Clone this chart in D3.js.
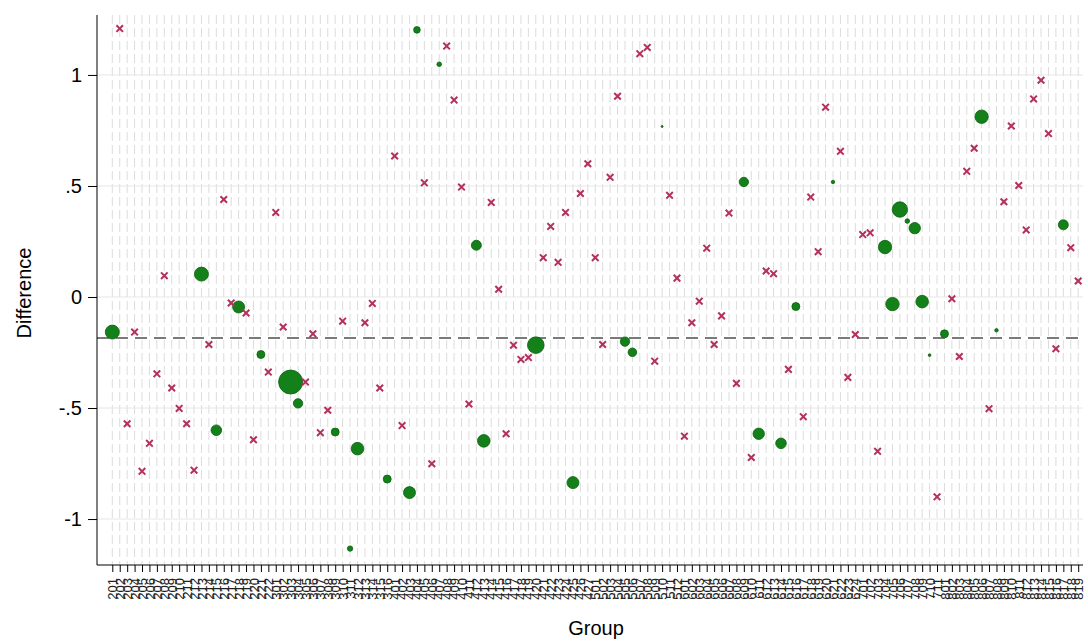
<!DOCTYPE html>
<html>
<head>
<meta charset="utf-8">
<title>Difference by group</title>
<script src="https://d3js.org/d3.v7.min.js"></script>
<style>
body { margin: 0; background: #fff; }
svg { font-family: "Liberation Sans", Arial, sans-serif; }
.vgrid line { stroke: #dcdcdc; stroke-width: 1; stroke-dasharray: 9,4; }
.hgrid line { stroke: #e6e6e6; stroke-width: 1; }
.axis path, .axis line { stroke: #000; }
.refline { stroke: #7a7a7a; stroke-width: 2; stroke-dasharray: 12,7; }
.dot { fill: #13801a; stroke: #0a620c; stroke-width: 0.8; }
.cross { stroke: #b3305f; stroke-width: 2; fill: none; }
</style>
</head>
<body>
<script>
// group codes (x categories)
var groups = [
  201,202,203,204,205,206,207,208,209,210,211,212,213,214,215,216,217,218,219,220,221,222,
  301,302,303,304,305,306,307,308,309,310,311,312,313,314,315,316,
  401,402,403,404,405,406,407,408,409,410,411,412,413,414,415,416,417,418,419,420,421,422,423,424,425,426,427,
  501,502,503,504,505,506,507,508,509,510,511,512,
  601,602,603,604,605,606,607,608,609,610,611,612,613,614,615,616,617,618,619,620,621,622,623,624,
  701,702,703,704,705,706,707,708,709,710,711,
  801,802,803,804,805,806,807,808,809,810,811,812,813,814,815,816,817,818,819
];

// difference per group
var diff = [
  -0.158, 1.209,-0.571,-0.158,-0.785,-0.659,-0.346, 0.096,-0.410,-0.502,
  -0.571,-0.780, 0.103,-0.214,-0.600, 0.439,-0.027,-0.045,-0.072,-0.643,
  -0.259,-0.338, 0.381,-0.135,-0.383,-0.479,-0.383,-0.166,-0.611,-0.510,
  -0.608,-0.109,-1.133,-0.683,-0.116,-0.029,-0.410,-0.820, 0.635,-0.579,
  -0.881, 1.203, 0.514,-0.751, 1.048, 1.130, 0.887, 0.495,-0.482, 0.233,
  -0.648, 0.426, 0.035,-0.616,-0.217,-0.281,-0.273,-0.217, 0.177, 0.318,
   0.156, 0.381,-0.836, 0.466, 0.600, 0.177,-0.214, 0.539, 0.904,-0.201,
  -0.249, 1.096, 1.124,-0.289, 0.768, 0.458, 0.085,-0.627,-0.116,-0.019,
   0.220,-0.214,-0.085, 0.378,-0.389, 0.518,-0.723,-0.616, 0.117, 0.105,
  -0.659,-0.326,-0.043,-0.539, 0.450, 0.204, 0.855, 0.518, 0.656,-0.362,
  -0.169, 0.281, 0.289,-0.695, 0.225,-0.032, 0.394, 0.342, 0.310,-0.021,
  -0.262,-0.900,-0.166,-0.008,-0.268, 0.566, 0.670, 0.812,-0.503,-0.150,
   0.429, 0.770, 0.502, 0.302, 0.892, 0.976, 0.736,-0.233, 0.325, 0.222,
   0.072
];

// 1 = significant (green circle), 0 = not (cross)
var sig = [
  1,0,0,0,0,0,0,0,0,0,
  0,0,1,0,1,0,0,1,0,0,
  1,0,0,0,1,1,0,0,0,0,
  1,0,1,1,0,0,0,1,0,0,
  1,1,0,0,1,0,0,0,0,1,
  1,0,0,0,0,0,0,1,0,0,
  0,0,1,0,0,0,0,0,0,1,
  1,0,0,0,1,0,0,0,0,0,
  0,0,0,0,0,1,0,1,0,0,
  1,0,1,0,0,0,0,1,0,0,
  0,0,0,0,1,1,1,1,1,1,
  1,0,1,0,0,0,0,1,0,1,
  0,0,0,0,0,0,0,0,1,0,
  0
];

// weights for the circles
var weight = [
  196,0,0,0,0,0,0,0,0,0,
  0,0,196,0,112,0,0,144,0,0,
  64,0,0,0,576,88,0,0,0,0,
  64,0,29,159,0,0,0,64,0,0,
  144,44,0,0,21,0,0,0,0,100,
  159,0,0,0,0,0,0,276,0,0,
  0,0,144,0,0,0,0,0,0,88,
  74,0,0,0,4,0,0,0,0,0,
  0,0,0,0,0,88,0,130,0,0,
  112,0,64,0,0,0,0,12,0,0,
  0,0,0,0,180,180,237,21,130,159,
  7,0,64,0,0,0,0,180,0,12,
  0,0,0,0,0,0,0,0,100,0,
  0
];

var meanDiff = -0.185;
var yTicks = [-1, -0.5, 0, 0.5, 1];
var yTickLabels = ["-1", "-.5", "0", ".5", "1"];

var W = 1088, H = 641;
var plot = {left: 97, right: 1083, top: 15, bottom: 565};

var data = groups.map(function(g, i) {
  return {group: g, diff: diff[i], sig: sig[i], w: weight[i]};
});

var svg = d3.select("body").append("svg")
    .attr("width", W)
    .attr("height", H);

var x = d3.scalePoint()
    .domain(groups)
    .range([plot.left + 15.3, plot.right - 4.8]);

var y = d3.scaleLinear()
    .domain([-1.207, 1.27])
    .range([plot.bottom, plot.top]);

var r = d3.scaleSqrt()
    .domain([0, 576])
    .range([0, 12]);

// vertical dotted grid, one per group
svg.append("g").attr("class", "vgrid")
  .selectAll("line").data(groups).enter().append("line")
    .attr("x1", function(d) { return x(d); })
    .attr("x2", function(d) { return x(d); })
    .attr("y1", plot.top)
    .attr("y2", plot.bottom);

// horizontal grid at y ticks
svg.append("g").attr("class", "hgrid")
  .selectAll("line").data(yTicks).enter().append("line")
    .attr("x1", plot.left)
    .attr("x2", plot.right)
    .attr("y1", function(d) { return y(d); })
    .attr("y2", function(d) { return y(d); });

// reference line
svg.append("line").attr("class", "refline")
    .attr("x1", plot.left)
    .attr("x2", plot.right)
    .attr("y1", y(meanDiff))
    .attr("y2", y(meanDiff));

// circles first, crosses on top
svg.append("g").selectAll("circle")
    .data(data.filter(function(d) { return d.sig === 1; }))
  .enter().append("circle")
    .attr("class", "dot")
    .attr("cx", function(d) { return x(d.group); })
    .attr("cy", function(d) { return y(d.diff); })
    .attr("r", function(d) { return r(d.w); });

var cs = 3.3;
svg.append("g").selectAll("path")
    .data(data.filter(function(d) { return d.sig === 0; }))
  .enter().append("path")
    .attr("class", "cross")
    .attr("d", function(d) {
      var cx = x(d.group), cy = y(d.diff);
      return "M" + (cx - cs) + "," + (cy - cs) + "L" + (cx + cs) + "," + (cy + cs) +
             "M" + (cx - cs) + "," + (cy + cs) + "L" + (cx + cs) + "," + (cy - cs);
    });

// y axis
var yAxis = svg.append("g").attr("class", "axis")
    .attr("transform", "translate(" + plot.left + ",0)")
    .call(d3.axisLeft(y)
      .tickValues(yTicks)
      .tickFormat(function(d, i) { return yTickLabels[i]; })
      .tickSize(9)
      .tickPadding(6)
      .tickSizeOuter(0));
yAxis.select(".domain").attr("d", "M0," + plot.top + "V" + plot.bottom);
yAxis.selectAll("text").style("font-size", "20px").attr("fill", "#000");

// x axis
var xAxis = svg.append("g").attr("class", "axis")
    .attr("transform", "translate(0," + plot.bottom + ")")
    .call(d3.axisBottom(x).tickSize(7).tickSizeOuter(0));
xAxis.select(".domain").attr("d", "M" + plot.left + ",0H" + plot.right);
xAxis.selectAll("text")
    .style("font-size", "13px")
    .attr("fill", "#222")
    .attr("text-anchor", "end")
    .attr("transform", "translate(0,13) rotate(-90)")
    .attr("x", 0)
    .attr("y", 0)
    .attr("dy", "0.35em");

// titles
svg.append("text")
    .attr("transform", "translate(24," + ((plot.top + plot.bottom) / 2 + 3) + ") rotate(-90)")
    .attr("text-anchor", "middle")
    .attr("dy", "0.35em")
    .style("font-size", "20px")
    .text("Difference");

svg.append("text")
    .attr("x", (plot.left + plot.right) / 2 + 6)
    .attr("y", 635)
    .attr("text-anchor", "middle")
    .style("font-size", "20px")
    .text("Group");
</script>
</body>
</html>
